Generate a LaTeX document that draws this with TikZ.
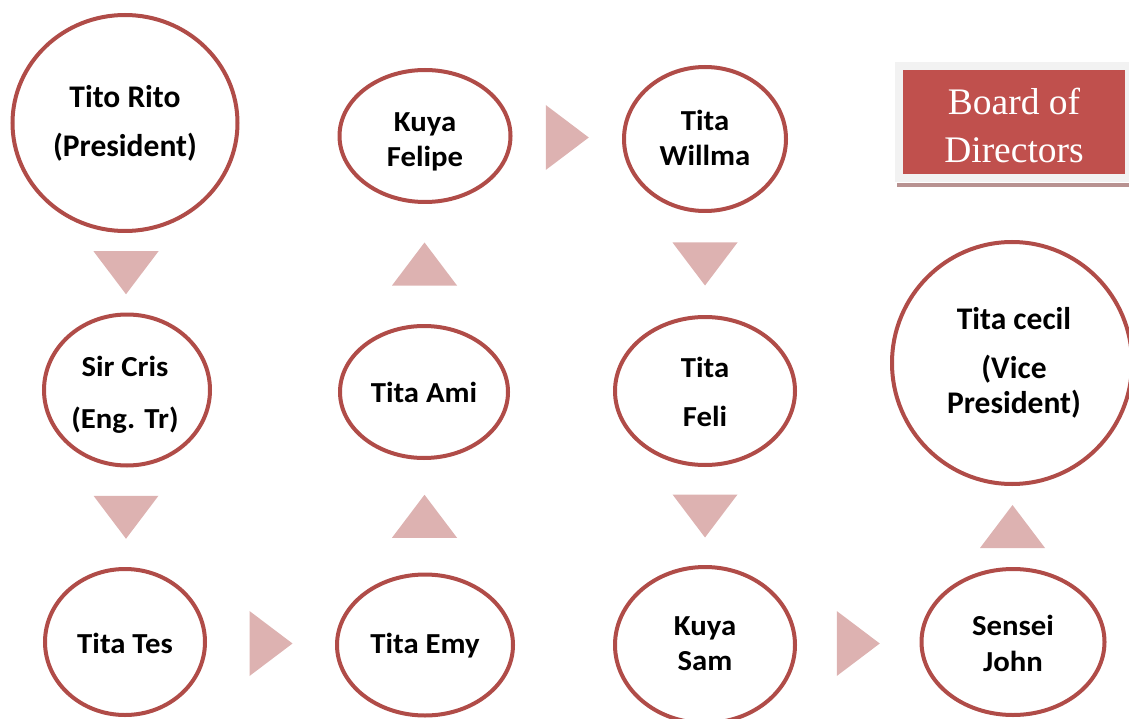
\documentclass[tikz,border=0pt]{standalone}
\usepackage{fontspec}
\usetikzlibrary{shapes.geometric,calc}
\newfontfamily\calS{Carlito}[FakeStretch=1.06]
\newfontfamily\calL{Carlito}
\newfontfamily\tms{Liberation Serif}
\definecolor{ellc}{RGB}{176,76,72}
\definecolor{tric}{RGB}{221,178,177}
\definecolor{boardred}{RGB}{192,80,77}
\definecolor{boardgray}{RGB}{242,242,242}
\definecolor{boardshadow}{RGB}{184,146,145}
\tikzset{
  ell/.style={ellipse, draw=ellc, line width=4pt, fill=white, inner sep=0pt},
  stxt/.style={anchor=base, inner sep=0pt, text=black, font=\calS\bfseries\fontsize{29}{35}\selectfont},
  ltxt/.style={anchor=base, inner sep=0pt, text=black, font=\calL\bfseries\fontsize{31.5}{38}\selectfont},
  btxt/.style={anchor=base, inner sep=0pt, text=white, font=\tms\fontsize{37.5}{45}\selectfont},
  tri/.style={fill=tric, draw=none}
}
\newcommand{\tridown}[2]{\fill[tri] ($(#1.south)!.5!(#2.north)$) ++(-32.5,-21.5) -- ++(65,0) -- ++(-32.5,43) -- cycle;}
\newcommand{\triup}[2]{\fill[tri] ($(#1.north)!.5!(#2.south)$) ++(-32.5,21.5) -- ++(65,0) -- ++(-32.5,-43) -- cycle;}
\newcommand{\triright}[2]{\fill[tri] ($(#1.east)!.5!(#2.west)$) ++(-21.5,-32.5) -- ++(0,65) -- ++(43,-32.5) -- cycle;}
\begin{document}
\begin{tikzpicture}[x=1pt,y=-1pt]
\useasboundingbox (0,0) rectangle (1129,719);
% ellipses
\node[ell, minimum width=225pt, minimum height=216pt] (rito) at (125,123) {};
\node[ell, minimum width=166pt, minimum height=151pt] (cris) at (127,390) {};
\node[ell, minimum width=160pt, minimum height=146pt] (tes) at (125,642) {};
\node[ell, minimum width=176pt, minimum height=141pt] (emy) at (425,645) {};
\node[ell, minimum width=168pt, minimum height=132pt] (ami) at (424,392) {};
\node[ell, minimum width=171pt, minimum height=132pt] (felipe) at (425,136) {};
\node[ell, minimum width=162pt, minimum height=144pt] (willma) at (705,139) {};
\node[ell, minimum width=180pt, minimum height=148pt] (feli) at (705,391) {};
\node[ell, minimum width=180pt, minimum height=156pt] (sam) at (705,645) {};
\node[ell, minimum width=183pt, minimum height=146pt] (john) at (1013,642) {};
\node[ell, minimum width=240pt, minimum height=242pt] (cecil) at (1012,363) {};
% texts
\node[ltxt] (t1a) at (125,108) {Tito Rito};
\node[ltxt] (t1b) at (125,157) {(President)};
\node[stxt] (t2a) at (125,376) {Sir Cris};
\node[stxt] (t2b) at (125,428) {(Eng. Tr)};
\node[stxt] (t3a) at (125,653) {Tita Tes};
\node[stxt] (t4a) at (425,653) {Tita Emy};
\node[stxt] (t5a) at (424,402) {Tita Ami};
\node[stxt] (t6a) at (425,132) {Kuya};
\node[stxt] (t6b) at (425,167) {Felipe};
\node[stxt] (t7a) at (705,131) {Tita};
\node[stxt] (t7b) at (705,166) {Willma};
\node[stxt] (t8a) at (705,377) {Tita};
\node[stxt] (t8b) at (705,426) {Feli};
\node[stxt] (t9a) at (705,635) {Kuya};
\node[stxt] (t9b) at (705,670) {Sam};
\node[stxt] (t10a) at (1013,635) {Sensei};
\node[stxt] (t10b) at (1013,671) {John};
\node[ltxt] (t11a) at (1014,329) {Tita cecil};
\node[ltxt] (t11b) at (1014,378) {(Vice};
\node[ltxt] (t11c) at (1014,413) {President)};
% triangles
\tridown{rito}{cris}
\tridown{cris}{tes}
\triright{tes}{emy}
\triup{emy}{ami}
\triup{ami}{felipe}
\triright{felipe}{willma}
\tridown{willma}{feli}
\tridown{feli}{sam}
\triright{sam}{john}
\triup{john}{cecil}
% board of directors
\fill[boardshadow] (897,183) rectangle (1129,187);
\fill[boardgray] (895,62) rectangle (1129,182);
\node[fill=boardred, draw=none, minimum width=222pt, minimum height=104pt, inner sep=0pt] (board) at (1014,122) {};
\node[btxt] (b1) at (1014,115) {Board of};
\node[btxt] (b2) at (1014,163) {Directors};
\end{tikzpicture}
\end{document}
